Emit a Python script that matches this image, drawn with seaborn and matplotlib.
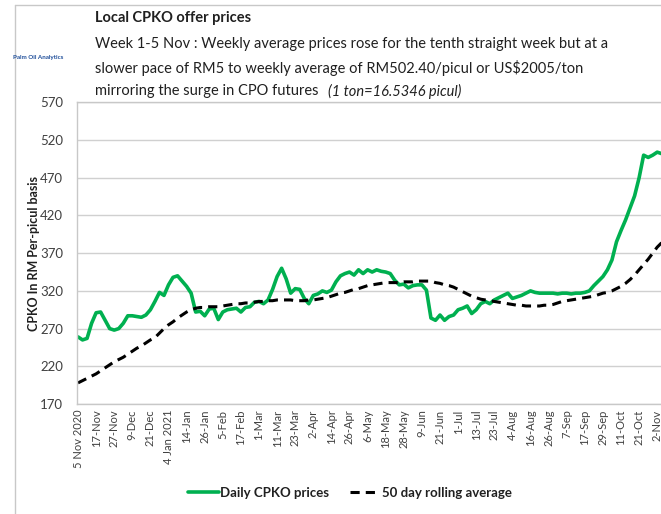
import matplotlib
matplotlib.use("Agg")
import matplotlib.pyplot as plt
import seaborn as sns
import pandas as pd
import numpy as np

# x-axis category labels (one every 4 points of the series below)
tick_labels = ["5 Nov 2020", "17-Nov", "27-Nov", "9-Dec", "21-Dec", "4 Jan 2021",
               "14-Jan", "26-Jan", "5-Feb", "17-Feb", "1-Mar", "11-Mar", "23-Mar",
               "2-Apr", "14-Apr", "26-Apr", "6-May", "18-May", "28-May", "9-Jun",
               "21-Jun", "1-Jul", "13-Jul", "23-Jul", "4-Aug", "16-Aug", "26-Aug",
               "7-Sep", "17-Sep", "29-Sep", "11-Oct", "21-Oct", "2-Nov"]

# daily CPKO prices (RM/picul), every 2nd trading day
daily_cpko = [259, 255, 257, 277, 291, 292, 281, 270, 268, 270,
              277, 287, 287, 286, 285, 288, 295, 306, 318, 314,
              328, 338, 340, 333, 326, 317, 292, 293, 287, 296,
              297, 282, 292, 295, 296, 297, 292, 298, 299, 305,
              306, 303, 308, 322, 339, 350, 336, 317, 323, 322,
              310, 303, 314, 316, 320, 318, 321, 332, 340, 343,
              345, 341, 348, 343, 348, 345, 348, 346, 345, 343,
              334, 328, 329, 324, 327, 328, 328, 321, 284, 281,
              288, 281, 286, 288, 295, 297, 300, 290, 295, 303,
              306, 303, 308, 311, 314, 317, 310, 312, 314, 317,
              320, 318, 317, 317, 317, 317, 316, 317, 317, 316,
              317, 317, 318, 320, 327, 333, 339, 348, 361, 385,
              400, 414, 430, 446, 470, 500, 497, 500, 504, 502,
              503]

# 50 day rolling average, same sampling
rolling_50 = [198, 201, 204, 207, 210, 214, 218, 222, 226, 229,
              232, 236, 240, 244, 247, 251, 255, 258, 264, 270,
              275, 279, 284, 288, 292, 295, 297, 298, 298, 299,
              299, 299, 300, 301, 302, 303, 303, 304, 304, 305,
              306, 306, 307, 307, 308, 308, 308, 308, 307, 307,
              307, 308, 308, 309, 310, 311, 313, 315, 317, 318,
              320, 322, 323, 325, 327, 328, 329, 330, 331, 331,
              331, 331, 332, 332, 332, 333, 333, 333, 333, 331,
              330, 328, 327, 325, 322, 319, 316, 313, 311, 309,
              308, 307, 306, 305, 304, 303, 302, 301, 301, 300,
              300, 300, 300, 301, 301, 302, 304, 306, 307, 308,
              309, 310, 311, 312, 313, 315, 317, 318, 320, 323,
              326, 330, 335, 341, 348, 355, 362, 370, 378, 384,
              390]

y_ticks = [170, 220, 270, 320, 370, 420, 470, 520, 570]

df = pd.DataFrame({"idx": np.arange(len(daily_cpko)),
                   "daily": daily_cpko,
                   "rolling": rolling_50})

sns.set_style("white")
plt.rcParams["font.family"] = ["Lato", "DejaVu Sans"]

fig = plt.figure(figsize=(6.61, 5.14), dpi=100)
# plot area runs past the right edge, as in the cropped original
ax = fig.add_axes([0.1163, 0.214, 0.8985, 0.5868])

sns.lineplot(data=df, x="idx", y="daily", ax=ax, color="#00B050",
             linewidth=2.6, label="Daily CPKO prices")
sns.lineplot(data=df, x="idx", y="rolling", ax=ax, color="black",
             linewidth=2.2, linestyle=(0, (3, 2)), label="50 day rolling average")

ax.set_xlim(-0.25, 131)
ax.set_ylim(170, 570)
ax.set_yticks(y_ticks)
ax.set_yticklabels([str(v) for v in y_ticks], fontsize=9.5, color="#404040")
ax.set_xticks(np.arange(0, len(tick_labels) * 4, 4))
ax.set_xticklabels(tick_labels, rotation=90, fontsize=8, color="#404040")
ax.tick_params(axis="y", length=0, pad=10)
ax.tick_params(axis="x", length=0, pad=4)
ax.grid(axis="y", color="#d0d0d0", linewidth=1)
ax.set_axisbelow(True)
ax.spines["right"].set_visible(False)
for s in ["left", "bottom", "top"]:
    ax.spines[s].set_color("#c8c8c8")
    ax.spines[s].set_linewidth(1)
ax.set_xlabel("")
ax.set_ylabel("CPKO In RM Per-picul basis", fontsize=9, fontweight="bold",
              color="#202020", labelpad=0)

leg = ax.legend(loc="center", bbox_to_anchor=(350 / 661, 21 / 514),
                bbox_transform=fig.transFigure, ncol=2, frameon=False,
                fontsize=9.5, handlelength=2.3, columnspacing=1.6,
                handletextpad=0.1)
for t in leg.get_texts():
    t.set_fontweight("bold")
    t.set_color("#202020")

# titles
fig.text(95 / 661, 1 - 18 / 514, "Local CPKO offer prices", fontsize=10.5,
         fontweight="bold", va="center", ha="left", color="#202020")
subtitle = ["Week 1-5 Nov : Weekly average prices rose for the tenth straight week but at a",
            "slower pace of RM5 to weekly average of RM502.40/picul or US$2005/ton"]
for k, line in enumerate(subtitle):
    fig.text(95 / 661, 1 - (44 + 23.5 * k) / 514, line, fontsize=10.5,
             va="center", ha="left", color="#202020")
t3 = fig.text(95 / 661, 1 - 91 / 514, "mirroring the surge in CPO futures",
              fontsize=10.5, va="center", ha="left", color="#202020")
ax.annotate("(1 ton=16.5346 picul)", xy=(1, 0.5), xycoords=t3,
            xytext=(7, 0), textcoords="offset points", fontsize=10.5,
            style="italic", va="center", ha="left", color="#202020",
            annotation_clip=False)

# small logo caption
fig.text(38 / 661, 1 - 57 / 514, "Palm Oil Analytics", fontsize=4.5,
         color="#1f4e9a", ha="center", va="center", fontweight="bold")

# outer frame lines (top and left)
fig.add_artist(plt.Line2D([15 / 661, 1], [1 - 5 / 514, 1 - 5 / 514],
                          transform=fig.transFigure, color="#c8c8c8", linewidth=1))
fig.add_artist(plt.Line2D([15 / 661, 15 / 661], [0, 1 - 5 / 514],
                          transform=fig.transFigure, color="#c8c8c8", linewidth=1))

fig.savefig("out.png", dpi=100)
